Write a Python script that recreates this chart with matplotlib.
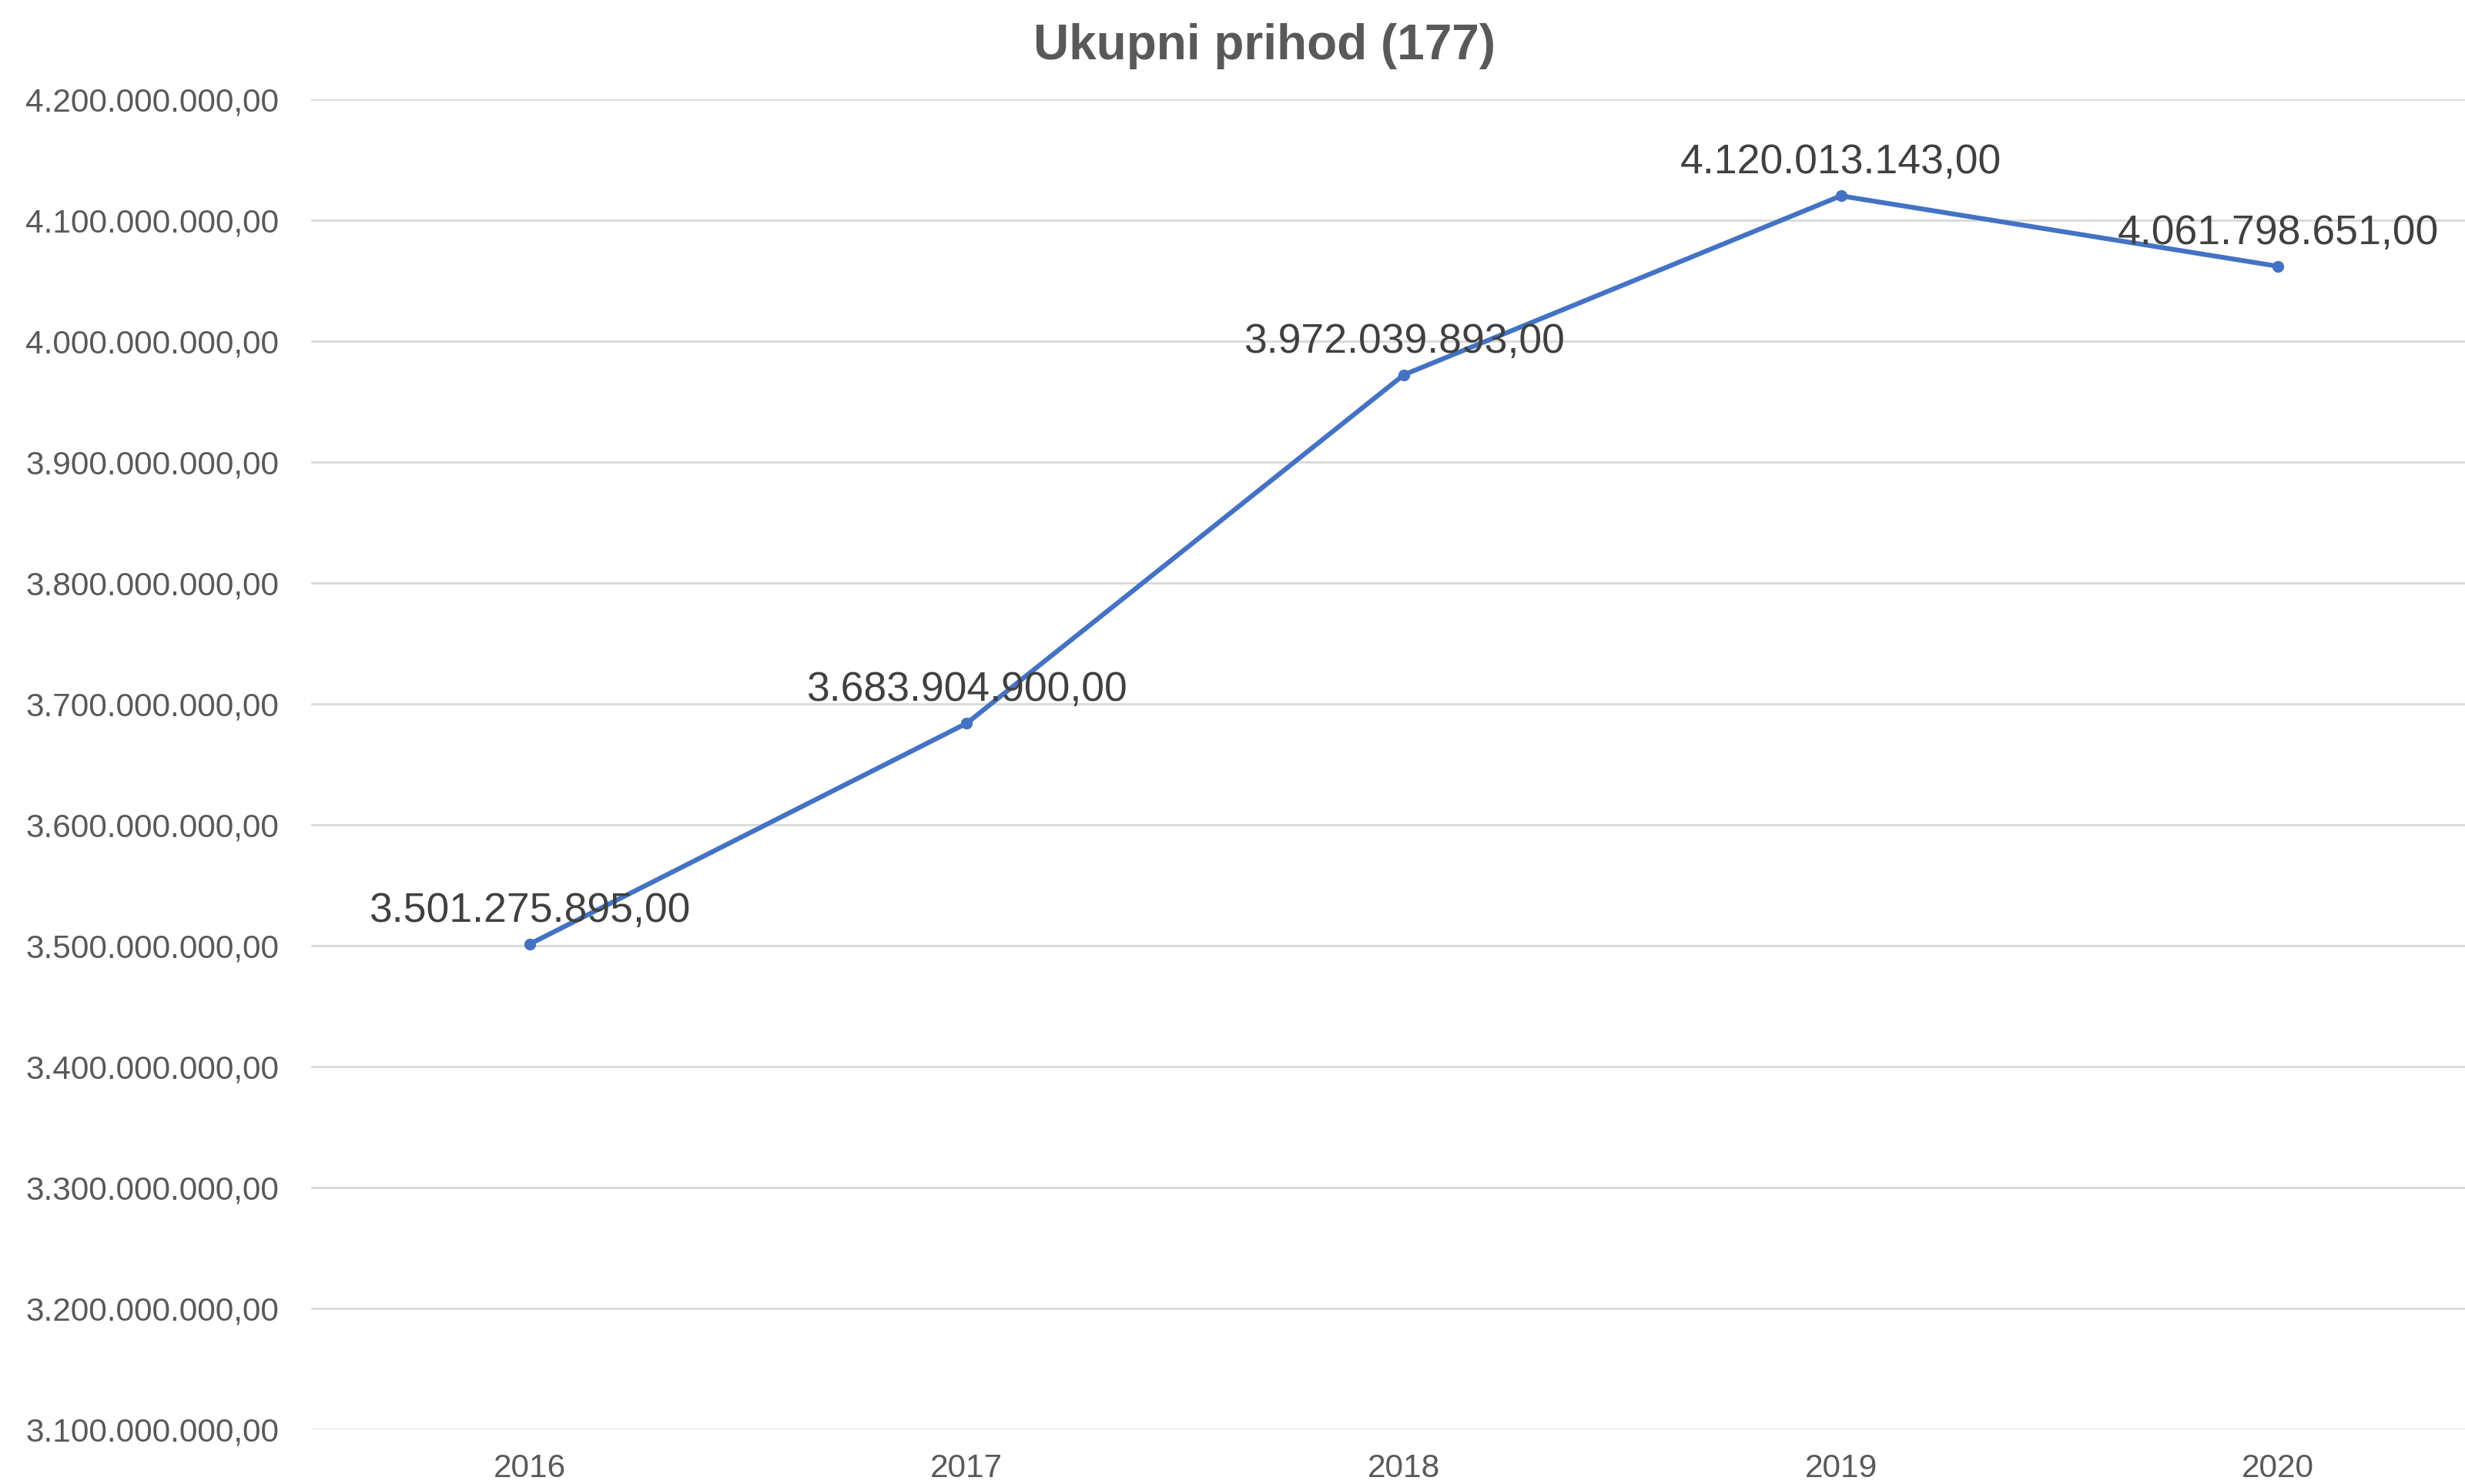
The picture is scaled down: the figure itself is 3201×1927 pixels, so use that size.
import matplotlib
matplotlib.use("Agg")
import matplotlib.pyplot as plt
from matplotlib.ticker import FuncFormatter, MultipleLocator

plt.rcParams['font.family'] = ['Liberation Sans', 'DejaVu Sans']

years = ['2016', '2017', '2018', '2019', '2020']
prihod = [3501275895.00, 3683904900.00, 3972039893.00, 4120013143.00, 4061798651.00]


def hr_format(v, pos=None):
    # croatian style: 1.234.567,00
    s = f"{v:,.2f}"
    return s.replace(',', 'X').replace('.', ',').replace('X', '.')


fig = plt.figure(figsize=(32.01, 19.27), dpi=100)
ax = fig.add_axes([0.1262, 0.0368, 0.8866, 0.8964])

x = list(range(len(years)))
ax.plot(x, prihod, color='#4472C4', linewidth=4.5, marker='o', markersize=10,
        solid_capstyle='round', zorder=3)

for xi, v in zip(x, prihod):
    ax.annotate(hr_format(v), (xi, v), xytext=(0, 31), textcoords='offset points',
                ha='center', va='center', fontsize=38.5, color='#404040', zorder=4)

ax.set_xlim(-0.5, len(years) - 0.5)
ax.set_ylim(3.1e9, 4.2e9)
ax.yaxis.set_major_locator(MultipleLocator(1e8))
ax.yaxis.set_major_formatter(FuncFormatter(hr_format))
ax.set_xticks(x)
ax.set_xticklabels(years)

ax.grid(axis='y', color='#d9d9d9', linewidth=2)
ax.set_axisbelow(True)
for sp in ax.spines.values():
    sp.set_visible(False)
ax.tick_params(axis='both', length=0, labelsize=30.5, colors='#595959')
ax.tick_params(axis='y', pad=30)
ax.tick_params(axis='x', pad=22)

fig.text(0.513, 0.969, 'Ukupni prihod (177)', ha='center', va='center',
         fontsize=46, fontweight='bold', color='#595959')

fig.savefig('out.png', dpi=100, facecolor='white')
